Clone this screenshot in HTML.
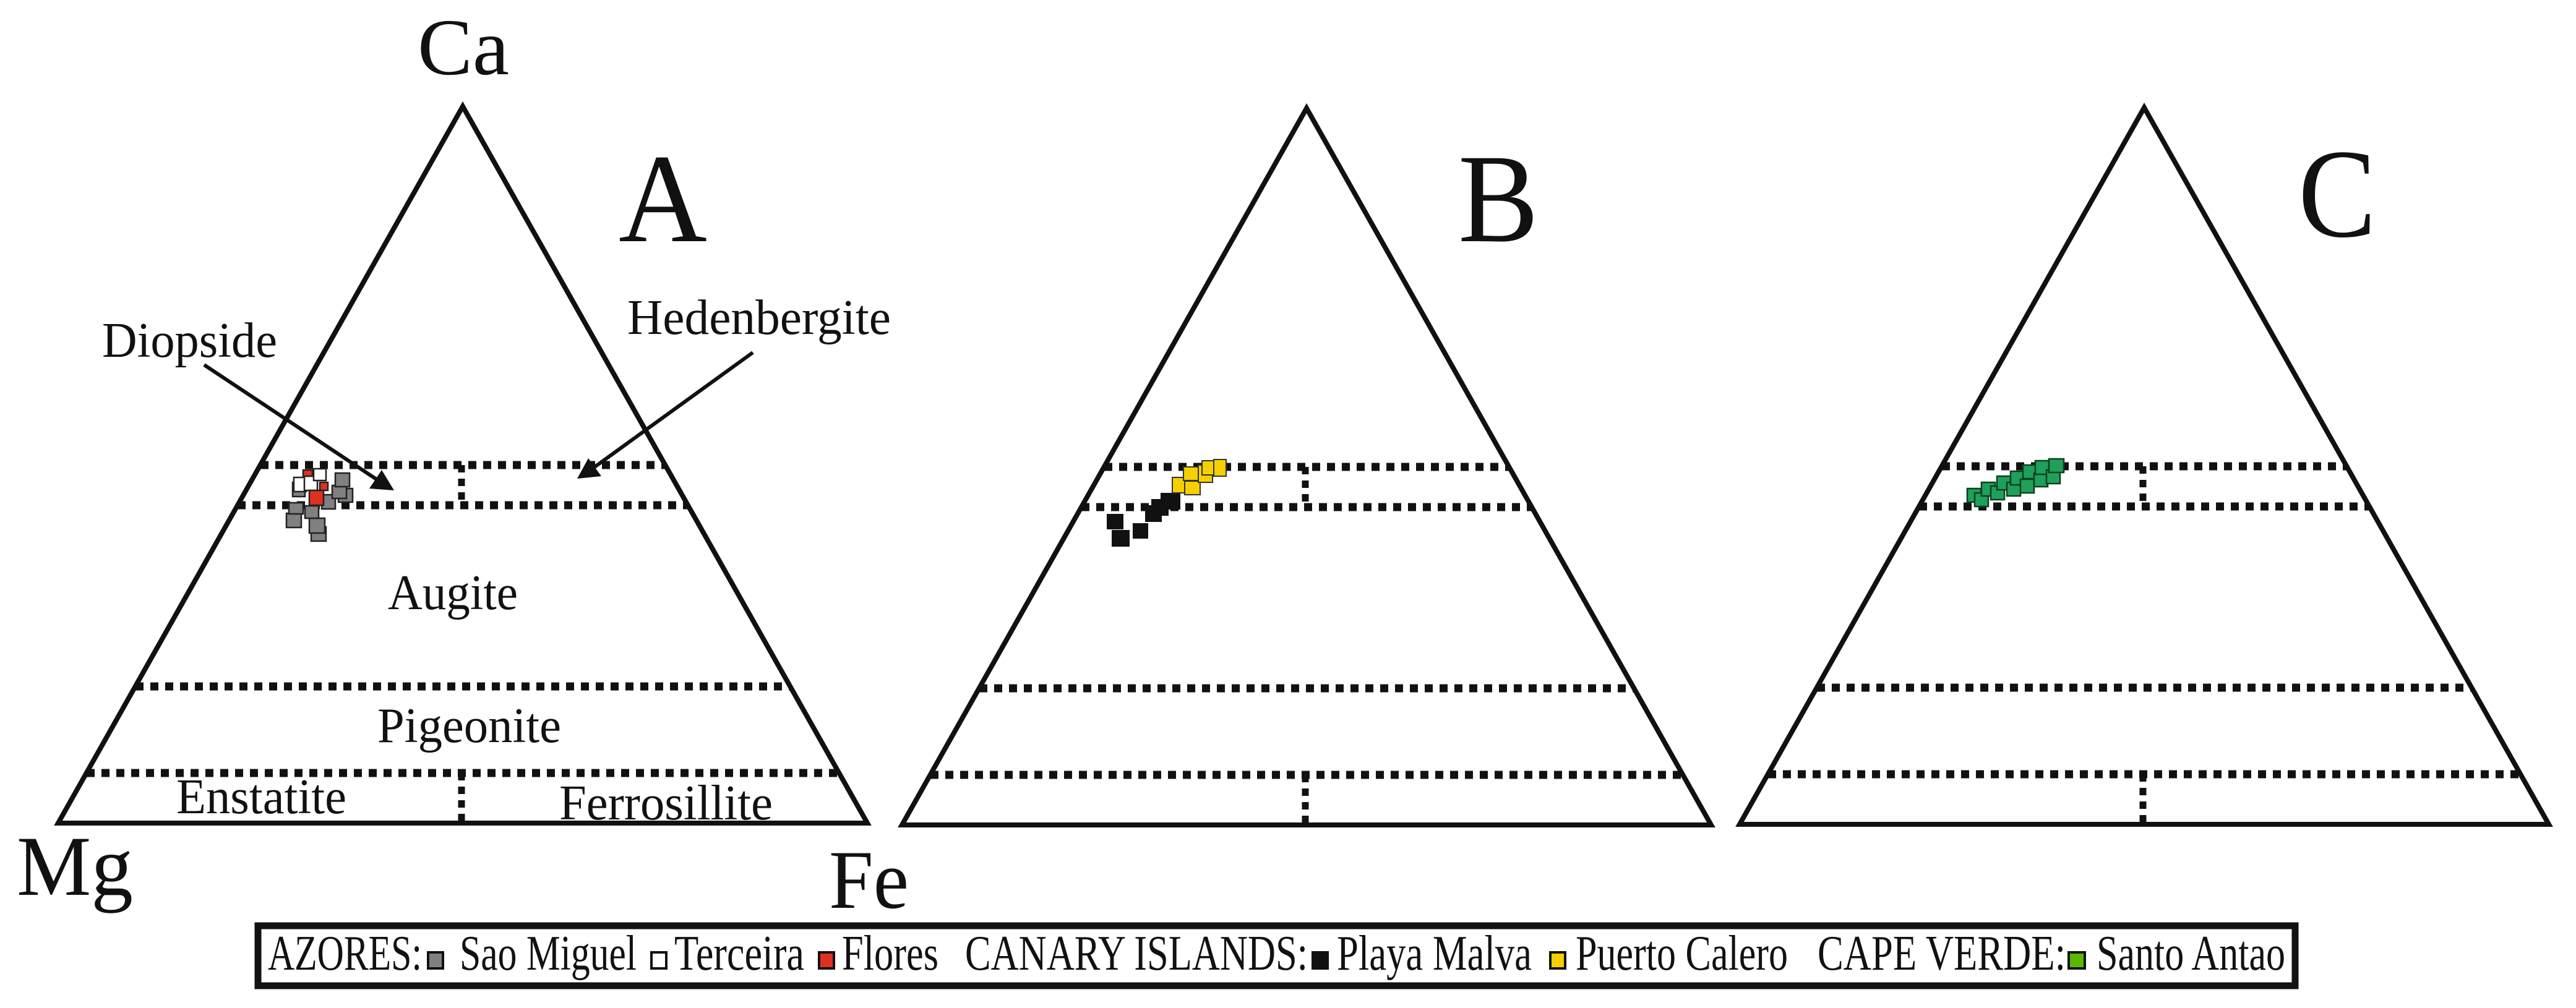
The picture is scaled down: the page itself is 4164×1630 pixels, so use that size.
<!DOCTYPE html>
<html><head><meta charset="utf-8"><style>
html,body{margin:0;padding:0;background:#fff;}
svg{display:block;}
text{font-family:"Liberation Serif",serif;fill:#111;}
</style></head><body>
<svg width="4164" height="1630" viewBox="0 0 4164 1630" xmlns="http://www.w3.org/2000/svg">
<defs>
<g id="tri">
  <polygon points="0,0 1308,0 654,-1159" fill="none" stroke="#111" stroke-width="8" stroke-linejoin="miter"/>
  <g stroke="#111" stroke-width="13" stroke-dasharray="13 11" fill="none">
    <line x1="327" y1="-579" x2="981" y2="-579"/>
    <line x1="290" y1="-514" x2="1018" y2="-514"/>
    <line x1="125" y1="-221" x2="1183" y2="-221"/>
    <line x1="46" y1="-81" x2="1262" y2="-81"/>
    <line x1="652" y1="-579" x2="652" y2="-514" stroke-width="11" stroke-dasharray="12 10"/>
    <line x1="652" y1="-81" x2="652" y2="0" stroke-width="11" stroke-dasharray="12 10"/>
  </g>
</g>
</defs>

<use href="#tri" x="94" y="1331"/>
<use href="#tri" x="1458" y="1334"/>
<use href="#tri" x="2812" y="1333"/>

<text x="675" y="120" font-size="130" textLength="148" lengthAdjust="spacingAndGlyphs">Ca</text>
<text x="27" y="1447" font-size="138" textLength="188" lengthAdjust="spacingAndGlyphs">Mg</text>
<text x="1340" y="1468" font-size="135" textLength="129" lengthAdjust="spacingAndGlyphs">Fe</text>

<text x="1000" y="390" font-size="205" textLength="143" lengthAdjust="spacingAndGlyphs">A</text>
<text x="2357" y="390" font-size="205" textLength="130" lengthAdjust="spacingAndGlyphs">B</text>
<text x="3715" y="382" font-size="205" textLength="126" lengthAdjust="spacingAndGlyphs">C</text>

<text x="165" y="577" font-size="80" textLength="283" lengthAdjust="spacingAndGlyphs">Diopside</text>
<text x="1014" y="540" font-size="80" textLength="426" lengthAdjust="spacingAndGlyphs">Hedenbergite</text>
<text x="627" y="985" font-size="80" textLength="210" lengthAdjust="spacingAndGlyphs">Augite</text>
<text x="610" y="1200" font-size="80" textLength="297" lengthAdjust="spacingAndGlyphs">Pigeonite</text>
<text x="285" y="1315" font-size="80" textLength="275" lengthAdjust="spacingAndGlyphs">Enstatite</text>
<text x="904" y="1325" font-size="80" textLength="345" lengthAdjust="spacingAndGlyphs">Ferrosillite</text>

<line x1="330" y1="590" x2="610" y2="776" stroke="#111" stroke-width="6"/>
<polygon points="637,793 597,790 617,760" fill="#111"/>
<line x1="1217" y1="570" x2="960" y2="756" stroke="#111" stroke-width="6"/>
<polygon points="933,774 951,741 972,770" fill="#111"/>

<g stroke="#222" stroke-width="2.5">
  <rect x="463" y="830" width="24" height="23" fill="#808080"/>
  <rect x="503" y="852" width="24" height="23" fill="#808080"/>
  <rect x="500" y="838" width="25" height="24" fill="#808080"/>
  <rect x="467" y="813" width="23" height="18" fill="#808080"/>
  <rect x="493" y="818" width="22" height="20" fill="#808080"/>
  <rect x="520" y="800" width="22" height="23" fill="#808080"/>
  <rect x="547" y="790" width="23" height="22" fill="#808080"/>
  <rect x="537" y="785" width="23" height="21" fill="#808080"/>
  <rect x="542" y="765" width="23" height="22" fill="#808080"/>
  <rect x="473" y="780" width="20" height="23" fill="#808080"/>
  <rect x="475" y="772" width="20" height="23" fill="#fff"/>
  <rect x="492" y="770" width="21" height="23" fill="#fff"/>
  <rect x="507" y="758" width="20" height="19" fill="#fff"/>
  <rect x="517" y="780" width="13" height="13" fill="#e03020"/>
  <rect x="490" y="760" width="15" height="10" fill="#e03020"/>
  <rect x="500" y="793" width="23" height="24" fill="#e03020"/>
</g>

<g stroke="#111" stroke-width="2">
  <rect x="1790" y="832" width="25" height="23" fill="#111"/>
  <rect x="1798" y="858" width="27" height="25" fill="#111"/>
  <rect x="1832" y="847" width="23" height="23" fill="#111"/>
  <rect x="1852" y="818" width="25" height="25" fill="#111"/>
  <rect x="1862" y="808" width="26" height="25" fill="#111"/>
  <rect x="1877" y="798" width="30" height="25" fill="#111"/>
</g>
<g stroke="#333" stroke-width="2">
  <rect x="1895" y="772" width="22" height="25" fill="#f5d000"/>
  <rect x="1915" y="778" width="25" height="22" fill="#f5d000"/>
  <rect x="1913" y="755" width="24" height="22" fill="#f5d000"/>
  <rect x="1937" y="752" width="23" height="28" fill="#f5d000"/>
  <rect x="1943" y="745" width="22" height="23" fill="#f5d000"/>
  <rect x="1962" y="743" width="20" height="27" fill="#f5d000"/>
</g>

<g stroke="#0d4020" stroke-width="2.5" fill="#1fa05a">
  <rect x="3180" y="790" width="22" height="22"/>
  <rect x="3192" y="797" width="22" height="22"/>
  <rect x="3203" y="780" width="22" height="22"/>
  <rect x="3218" y="786" width="22" height="22"/>
  <rect x="3228" y="770" width="22" height="22"/>
  <rect x="3244" y="780" width="22" height="22"/>
  <rect x="3250" y="762" width="22" height="22"/>
  <rect x="3266" y="775" width="22" height="22"/>
  <rect x="3270" y="752" width="22" height="22"/>
  <rect x="3288" y="765" width="22" height="22"/>
  <rect x="3290" y="745" width="22" height="22"/>
  <rect x="3308" y="760" width="22" height="22"/>
  <rect x="3312" y="742" width="24" height="22"/>
</g>

<rect x="417" y="1497" width="3293" height="97" fill="#fff" stroke="#111" stroke-width="11"/>
<g font-size="80">
  <text x="433" y="1568" textLength="249" lengthAdjust="spacingAndGlyphs">AZORES:</text>
  <text x="743" y="1568" textLength="286" lengthAdjust="spacingAndGlyphs">Sao Miguel</text>
  <text x="1090" y="1568" textLength="210" lengthAdjust="spacingAndGlyphs">Terceira</text>
  <text x="1361" y="1568" textLength="156" lengthAdjust="spacingAndGlyphs">Flores</text>
  <text x="1560" y="1568" textLength="554" lengthAdjust="spacingAndGlyphs">CANARY ISLANDS:</text>
  <text x="2161" y="1568" textLength="315" lengthAdjust="spacingAndGlyphs">Playa Malva</text>
  <text x="2547" y="1568" textLength="343" lengthAdjust="spacingAndGlyphs">Puerto Calero</text>
  <text x="2938" y="1568" textLength="401" lengthAdjust="spacingAndGlyphs">CAPE VERDE:</text>
  <text x="3389" y="1568" textLength="305" lengthAdjust="spacingAndGlyphs">Santo Antao</text>
</g>
<g stroke="#111" stroke-width="4">
  <rect x="692" y="1540" width="24" height="26" fill="#808080"/>
  <rect x="1053" y="1540" width="24" height="26" fill="#fff"/>
  <rect x="1324" y="1540" width="24" height="26" fill="#e03020"/>
  <rect x="2122" y="1540" width="24" height="26" fill="#111"/>
  <rect x="2506" y="1540" width="24" height="26" fill="#f5d000"/>
  <rect x="3344" y="1540" width="26" height="26" fill="#5cb800"/>
</g>
</svg>
</body></html>
